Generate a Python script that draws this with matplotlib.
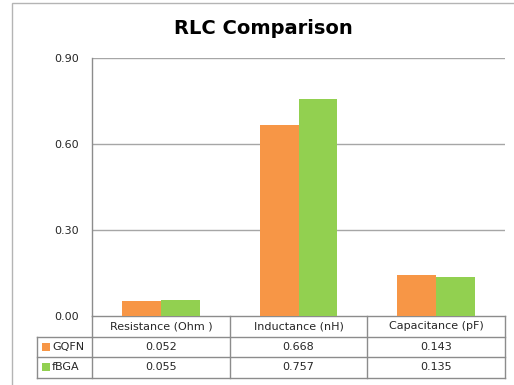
import numpy as np
import matplotlib.pyplot as plt
from matplotlib.patches import Rectangle

categories = ['Resistance (Ohm )', 'Inductance (nH)', 'Capacitance (pF)']
series_names = ['GQFN', 'fBGA']
gqfn = [0.052, 0.668, 0.143]
fbga = [0.055, 0.757, 0.135]
yticks = [0.0, 0.3, 0.6, 0.9]

colors = ['#F79646', '#92D050']
grid_col = '#a6a6a6'
line_col = '#8c8c8c'
txt_col = '#262626'

W, H = 514, 385
fig = plt.figure(figsize=(W / 100, H / 100), dpi=100)

# chart frame (runs off the right and bottom edges)
fig.patches.append(Rectangle((12 / W, -0.1), 1.2, (H - 3) / H + 0.1,
                             transform=fig.transFigure, fill=False,
                             edgecolor='#b4b4b4', linewidth=1.0))

fig.text(263 / W, 1 - 28 / H, 'RLC Comparison', ha='center', va='center',
         fontsize=14, fontweight='bold', color='black')

left, right, top, bottom = 92, 505, 58, 316
ax = fig.add_axes([left / W, 1 - bottom / H, (right - left) / W, (bottom - top) / H])

x = np.arange(len(categories))
bw = 0.283
ax.bar(x - bw / 2, gqfn, bw, color=colors[0], zorder=3)
ax.bar(x + bw / 2, fbga, bw, color=colors[1], zorder=3)

ax.set_xlim(-0.5, 2.5)
ax.set_ylim(0, 0.9)
ax.set_yticks(yticks)
ax.set_yticklabels([f'{t:.2f}' for t in yticks])
ax.tick_params(axis='y', length=0, pad=9.5, labelsize=8, labelcolor=txt_col)
ax.set_xticks([])
for t in yticks[1:]:
    ax.axhline(t, color=grid_col, linewidth=1.0, zorder=1)
for s in ['top', 'right', 'bottom']:
    ax.spines[s].set_visible(False)
ax.spines['left'].set_color(line_col)
ax.spines['left'].set_linewidth(1.0)

# data table under the plot
trans = ax.get_xaxis_transform()
rh = 20.5 / (bottom - top)
px_unit = (right - left) / 3.0
x_lab = -0.5 - (left - 37) / px_unit
bounds = [-0.5, 0.5, 1.5, 2.5]
kw = dict(transform=trans, clip_on=False, color=line_col, linewidth=1.0)

ax.plot([-0.5, 2.5], [0, 0], **kw)
for k in range(1, 4):
    ax.plot([x_lab, 2.5], [-k * rh, -k * rh], **kw)
for b in bounds:
    ax.plot([b, b], [0, -3 * rh], **kw)
ax.plot([x_lab, x_lab], [-rh, -3 * rh], **kw)

for i, c in enumerate(categories):
    ax.text(x[i], -0.5 * rh, c, transform=trans, ha='center', va='center',
            fontsize=8, color=txt_col)

for r, (name, vals) in enumerate(zip(series_names, [gqfn, fbga])):
    yc = -(1.5 + r) * rh
    ax.add_patch(Rectangle((x_lab + 5 / px_unit, yc - 4 / (bottom - top)),
                           8 / px_unit, 8 / (bottom - top), transform=trans,
                           clip_on=False, color=colors[r], linewidth=0))
    ax.text(x_lab + 15 / px_unit, yc, name, transform=trans, ha='left',
            va='center', fontsize=8, color=txt_col)
    for i, v in enumerate(vals):
        ax.text(x[i], yc, f'{v:.3f}', transform=trans, ha='center',
                va='center', fontsize=8, color=txt_col)

fig.savefig('out.png', dpi=100)
